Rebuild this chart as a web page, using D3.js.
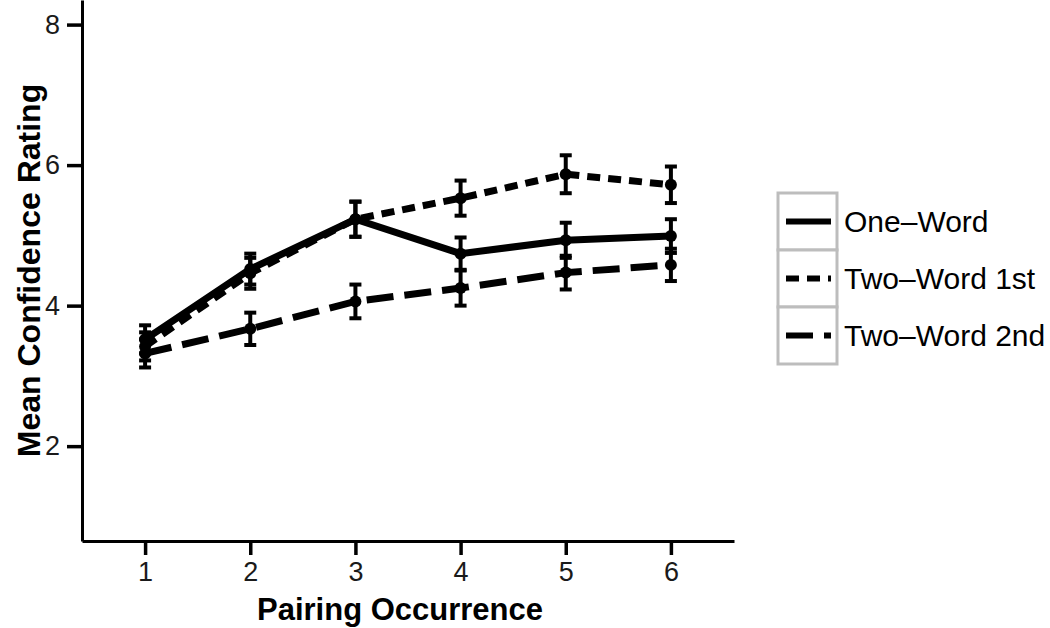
<!DOCTYPE html>
<html>
<head>
<meta charset="utf-8">
<script src="https://cdn.jsdelivr.net/npm/d3@7"></script>
<style>
  body { margin: 0; background: #fff; }
  svg { display: block; font-family: "Liberation Sans", Arial, sans-serif; }
</style>
</head>
<body>
<div id="chart"></div>
<script>
const width = 1050;
const height = 628;

// data
const occurrences = [1, 2, 3, 4, 5, 6];
const seriesNames = ["One\u2013Word", "Two\u2013Word 1st", "Two\u2013Word 2nd"];
const oneWord = [3.52, 4.52, 5.23, 4.74, 4.93, 4.99];
const oneWordErr = [0.2, 0.22, 0.25, 0.23, 0.25, 0.24];
const twoWord1st = [3.42, 4.46, 5.23, 5.53, 5.87, 5.72];
const twoWord1stErr = [0.2, 0.22, 0.25, 0.25, 0.27, 0.26];
const twoWord2nd = [3.32, 3.67, 4.06, 4.25, 4.47, 4.58];
const twoWord2ndErr = [0.2, 0.23, 0.24, 0.25, 0.24, 0.23];
const yTicks = [2, 4, 6, 8];

const series = [
  { name: seriesNames[0], values: oneWord, err: oneWordErr, dash: null },
  { name: seriesNames[1], values: twoWord1st, err: twoWord1stErr, dash: "13,8" },
  { name: seriesNames[2], values: twoWord2nd, err: twoWord2ndErr, dash: "27,11" }
];

const margin = { left: 82, right: 316, top: 0, bottom: 87 };

const svg = d3.select("#chart")
  .append("svg")
  .attr("width", width)
  .attr("height", height);

const x = d3.scaleLinear()
  .domain([0.4, 6.6])
  .range([margin.left, width - margin.right]);

const y = d3.scaleLinear()
  .domain([0.65, 8.35])
  .range([height - margin.bottom, margin.top]);

// axes
const xAxis = svg.append("g")
  .attr("transform", `translate(0,${height - margin.bottom})`)
  .call(d3.axisBottom(x).tickValues(occurrences).tickFormat(d3.format("d"))
    .tickSize(14).tickPadding(7).tickSizeOuter(0));

const yAxis = svg.append("g")
  .attr("transform", `translate(${margin.left},0)`)
  .call(d3.axisLeft(y).tickValues(yTicks).tickFormat(d3.format("d"))
    .tickSize(15).tickPadding(7).tickSizeOuter(0));

[xAxis, yAxis].forEach(g => {
  g.select(".domain").attr("stroke", "#000").attr("stroke-width", 3);
  g.selectAll(".tick line").attr("stroke", "#000").attr("stroke-width", 3.5);
  g.selectAll(".tick text")
    .attr("fill", "#1a1a1a")
    .style("font-size", "27px")
    .style("font-family", "'Liberation Sans', Arial, sans-serif");
});

// axis titles
svg.append("text")
  .attr("x", (margin.left + width - margin.right) / 2 - 8)
  .attr("y", 620)
  .attr("text-anchor", "middle")
  .style("font-size", "31px")
  .style("font-weight", "bold")
  .text("Pairing Occurrence");

svg.append("text")
  .attr("transform", `translate(40,${(height - margin.bottom) / 2}) rotate(-90)`)
  .attr("text-anchor", "middle")
  .style("font-size", "32px")
  .style("font-weight", "bold")
  .text("Mean Confidence Rating");

const line = d3.line()
  .x((d, i) => x(occurrences[i]))
  .y(d => y(d));

const plot = svg.append("g");

series.forEach(s => {
  const g = plot.append("g");

  // error bars
  s.values.forEach((v, i) => {
    const cx = x(occurrences[i]);
    g.append("line")
      .attr("x1", cx).attr("x2", cx)
      .attr("y1", y(v - s.err[i])).attr("y2", y(v + s.err[i]))
      .attr("stroke", "#000").attr("stroke-width", 4);
    [v - s.err[i], v + s.err[i]].forEach(e => {
      g.append("line")
        .attr("x1", cx - 6).attr("x2", cx + 6)
        .attr("y1", y(e)).attr("y2", y(e))
        .attr("stroke", "#000").attr("stroke-width", 4);
    });
  });

  g.append("path")
    .datum(s.values)
    .attr("d", line)
    .attr("fill", "none")
    .attr("stroke", "#000")
    .attr("stroke-width", 7)
    .attr("stroke-dasharray", s.dash);

  g.selectAll("circle")
    .data(s.values)
    .enter()
    .append("circle")
    .attr("cx", (d, i) => x(occurrences[i]))
    .attr("cy", d => y(d))
    .attr("r", 6)
    .attr("fill", "#000");
});

// legend
const legend = svg.append("g").attr("transform", "translate(778,193)");
const keyW = 59, keyH = 57;

series.forEach((s, i) => {
  const k = legend.append("g").attr("transform", `translate(0,${i * keyH})`);
  k.append("rect")
    .attr("x", 0).attr("y", 0)
    .attr("width", keyW).attr("height", keyH)
    .attr("fill", "#fff")
    .attr("stroke", "#bdbdbd")
    .attr("stroke-width", 3);
  k.append("line")
    .attr("x1", 8).attr("x2", keyW - 6)
    .attr("y1", keyH / 2).attr("y2", keyH / 2)
    .attr("stroke", "#000")
    .attr("stroke-width", 6)
    .attr("stroke-dasharray", s.dash);
  k.append("text")
    .attr("x", keyW + 7)
    .attr("y", keyH / 2)
    .attr("dy", "0.36em")
    .style("font-size", "30px")
    .text(s.name);
});
</script>
</body>
</html>
